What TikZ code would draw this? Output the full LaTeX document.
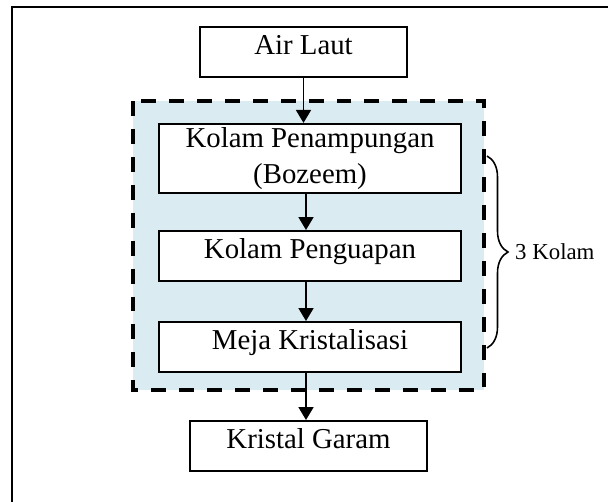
\documentclass[tikz,border=0pt]{standalone}
\usepackage{fontspec}
\setmainfont{Liberation Serif}
\usetikzlibrary{arrows.meta,decorations.pathreplacing}
\definecolor{kolambiru}{RGB}{218,236,242}
\tikzset{
  kotak/.style={draw, line width=1.1pt, fill=white, minimum height=1cm, inner sep=2pt,
    font=\fontsize{16.4}{20.5}\selectfont},
  satubaris/.style={text height=0.4cm, text depth=0.28cm},
  panah/.style={line width=1.1pt, -{Triangle[length=7.4pt,width=8.5pt]}},
}
\begin{document}
\begin{tikzpicture}[x=0.02cm, y=-0.02cm]
  \useasboundingbox (0,0) rectangle (608,502);
  % bingkai luar
  \draw[line width=0.8pt] (620,7) -- (12,7) -- (12,515);
  % daerah tiga kolam
  \draw[fill=kolambiru, line width=2.3pt, dash pattern=on 8.5pt off 7.4pt] (133,101) rectangle (484,390);

  \node[kotak, satubaris, minimum width=4.14cm] (air) at (303.5,52) {Air Laut};
  \node[kotak, align=center, minimum width=6.04cm, minimum height=1.34cm] (penampung) at (310,158.5) {Kolam Penampungan\\(Bozeem)};
  \node[kotak, satubaris, minimum width=6.04cm] (penguapan) at (310,256) {Kolam Penguapan};
  \node[kotak, satubaris, minimum width=6.04cm] (meja) at (310,347) {Meja Kristalisasi};
  \node[kotak, satubaris, minimum width=4.74cm] (kristal) at (308.5,446) {Kristal Garam};

  \draw[panah] (air.south) -- (air.south |- penampung.north);
  \draw[panah] ([xshift=-0.08cm]penampung.south) -- ([xshift=-0.08cm]penguapan.north);
  \draw[panah] ([xshift=-0.08cm]penguapan.south) -- ([xshift=-0.08cm]meja.north);
  \draw[panah] ([xshift=-0.08cm]meja.south) -- ([xshift=-0.08cm]meja.south |- kristal.north);

  % kurung kurawal
  \coordinate (kurungatas) at (487,156);
  \coordinate (kurungbawah) at (487,348);
  \draw[line width=0.9pt, decorate, decoration={brace, amplitude=0.42cm}] (kurungatas) -- (kurungbawah);
  \node[anchor=west, font=\fontsize{13}{15}\selectfont] (tigakolam) at (509,252) {3 Kolam};
\end{tikzpicture}
\end{document}
